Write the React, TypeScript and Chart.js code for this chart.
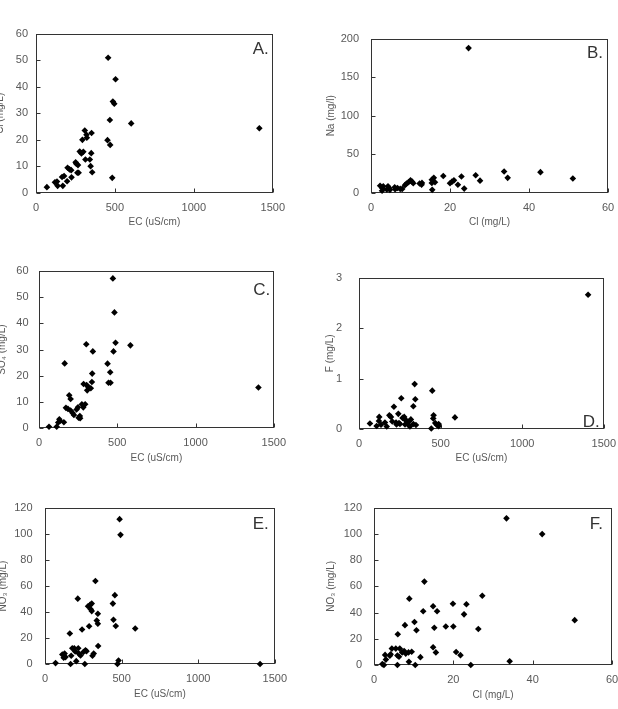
import React, { useEffect, useRef } from "react";
import { Chart, registerables } from "chart.js";
Chart.register(...registerables);

// ---- tick values ----
const ecTicks = [0, 500, 1000, 1500];
const clTicks = [0, 20, 40, 60];
const cl60Ticks = [0, 10, 20, 30, 40, 50, 60];
const naTicks = [0, 50, 100, 150, 200];
const fTicks = [0, 1, 2, 3];
const no3Ticks = [0, 20, 40, 60, 80, 100, 120];

// ---- A: Cl vs EC ----
const aEC = [69, 120, 133, 137, 170, 165, 178, 197, 200, 212, 225, 223, 251, 255, 262, 270, 266, 277, 288, 300, 294, 309, 322, 320, 313, 341, 346, 352, 350, 356, 453, 457, 468, 470, 483, 487, 496, 504, 603, 1415];
const aCl = [2.2, 4.0, 4.3, 2.7, 2.7, 6.0, 6.4, 4.4, 9.5, 8.9, 5.9, 8.6, 11.6, 11.0, 7.6, 7.6, 10.5, 15.6, 14.9, 15.5, 20.0, 23.5, 20.8, 21.9, 12.6, 12.6, 10.1, 22.6, 15.0, 7.8, 19.9, 50.9, 27.5, 18.1, 5.7, 34.4, 33.6, 42.8, 26.2, 24.4];

// ---- B: Na vs Cl ----
const bCl = [24.7, 33.7, 34.6, 42.9, 51.1, 26.5, 27.6, 22.9, 23.6, 22.0, 18.3, 20.0, 20.5, 21.0, 15.5, 15.4, 15.4, 15.9, 16.2, 12.9, 12.8, 12.3, 10.4, 10.0, 10.7, 9.5, 9.0, 8.6, 7.9, 7.4, 6.7, 6.0, 6.1, 4.6, 4.3, 4.0, 2.9, 2.8, 2.3, 3.1, 4.8];
const bNa = [187.7, 27.8, 19.6, 27.0, 18.8, 22.9, 16.0, 21.3, 5.7, 10.6, 22.1, 12.7, 14.7, 16.4, 4.1, 13.1, 17.2, 19.6, 13.9, 13.1, 10.6, 12.3, 14.7, 16.4, 12.7, 13.9, 12.3, 10.2, 5.3, 5.3, 6.5, 7.4, 4.9, 6.5, 8.6, 4.5, 6.1, 2.9, 9.4, 8.6, 4.1];

// ---- C: SO4 vs EC ----
const cEC = [64, 113, 123, 130, 134, 159, 164, 172, 185, 193, 202, 202, 215, 223, 240, 249, 253, 261, 263, 274, 283, 285, 295, 304, 302, 308, 314, 331, 338, 340, 344, 438, 444, 457, 455, 472, 476, 482, 489, 584, 1402];
const cSO4 = [0.5, 0.5, 2.1, 3.3, 2.7, 2.2, 24.7, 7.7, 7.3, 12.5, 11.1, 6.7, 5.7, 5.0, 7.1, 7.9, 3.9, 4.6, 3.7, 9.1, 7.9, 16.8, 9.1, 16.4, 32.0, 14.4, 15.8, 15.2, 17.6, 20.8, 29.3, 24.6, 17.3, 17.3, 21.3, 57.2, 29.3, 44.2, 32.6, 31.6, 15.5];

// ---- D: F vs EC ----
const dEC = [67, 124, 122, 108, 135, 159, 170, 186, 196, 214, 204, 227, 241, 245, 251, 259, 267, 277, 282, 292, 300, 306, 312, 333, 333, 341, 345, 349, 443, 449, 457, 455, 467, 476, 488, 488, 588, 1404, 285, 318, 230];
const dF = [0.11, 0.24, 0.16, 0.06, 0.085, 0.13, 0.05, 0.27, 0.24, 0.44, 0.15, 0.13, 0.30, 0.12, 0.10, 0.61, 0.22, 0.24, 0.09, 0.16, 0.09, 0.15, 0.05, 0.10, 0.45, 0.89, 0.59, 0.08, 0.01, 0.76, 0.27, 0.21, 0.12, 0.085, 0.10, 0.055, 0.23, 2.66, 0.18, 0.19, 0.09];

// ---- E: NO3 vs EC ----
const eEC = [69, 113, 122, 128, 134, 162, 167, 171, 178, 191, 197, 204, 214, 217, 221, 232, 242, 251, 260, 264, 271, 281, 288, 294, 299, 305, 305, 310, 318, 329, 338, 345, 345, 347, 443, 447, 456, 462, 473, 480, 487, 493, 589, 1404];
const eNO3 = [0.7, 7.3, 4.8, 8.0, 5.3, 23.5, 0, 6.3, 12.1, 12.1, 9.7, 2.2, 50.3, 12.1, 8.0, 6.5, 26.6, 9.2, 0, 10.6, 9.9, 44.5, 29.0, 45.5, 42.1, 46.5, 40.7, 6.3, 8.0, 63.9, 33.4, 38.7, 31.0, 13.8, 46.5, 34.1, 53.0, 29.3, 0, 2.7, 111.5, 99.4, 27.3, 0];

// ---- F: NO3 vs Cl ----
const fCl = [2.1, 2.5, 2.8, 3.0, 4.0, 4.2, 4.5, 5.5, 5.9, 6.0, 5.9, 6.3, 6.5, 7.1, 7.6, 7.8, 8.0, 8.7, 8.8, 8.9, 9.5, 10.2, 10.4, 10.7, 11.7, 12.4, 12.7, 14.9, 14.9, 15.2, 15.6, 15.9, 18.1, 19.9, 20.0, 20.7, 21.8, 22.7, 23.3, 24.4, 26.3, 27.3, 33.4, 34.2, 42.4, 50.6];
const fNO3 = [0.7, 0, 7.7, 4.1, 7.0, 8.2, 12.5, 12.5, 0, 23.4, 7.2, 6.3, 12.5, 9.6, 10.6, 30.4, 8.7, 9.6, 2.4, 50.6, 10.1, 32.8, 0, 26.5, 6.0, 41.0, 63.6, 44.8, 13.5, 28.4, 9.6, 41.0, 29.4, 46.7, 29.4, 9.9, 7.5, 38.6, 46.3, 0, 27.5, 52.8, 111.8, 2.9, 99.8, 34.2];

const FONT = '"Liberation Sans", Arial, sans-serif';
const TEXT = "#595959";
const LINE = "#333333";

type PanelCfg = {
  left: number; top: number; width: number; height: number;
  yW: number; xH: number; yPad: number;
  xs: number[]; ys: number[];
  xTicks: number[]; yTicks: number[];
  xTitle: string; yTitle: string;
  letter: string; corner: "top" | "bottom"; dx: number; dy: number;
};

const panels: PanelCfg[] = [
  { left: -6, top: 19, width: 299, height: 209, yW: 42, xH: 35, yPad: 8, xs: aEC, ys: aCl, xTicks: ecTicks, yTicks: cl60Ticks, xTitle: "EC (uS/cm)", yTitle: "Cl (mg/L)", letter: "A.", corner: "top", dx: 4, dy: 20 },
  { left: 325, top: 20, width: 303, height: 208, yW: 46, xH: 35, yPad: 12, xs: bCl, ys: bNa, xTicks: clTicks, yTicks: naTicks, xTitle: "Cl (mg/L)", yTitle: "Na (mg/l)", letter: "B.", corner: "top", dx: 5, dy: 19 },
  { left: -4, top: 254, width: 298, height: 210, yW: 43, xH: 36, yPad: 10.5, xs: cEC, ys: cSO4, xTicks: ecTicks, yTicks: cl60Ticks, xTitle: "EC (uS/cm)", yTitle: "SO\u2084 (mg/L)", letter: "C.", corner: "top", dx: 3.5, dy: 24 },
  { left: 324, top: 254, width: 300, height: 210, yW: 35, xH: 35, yPad: 17, xs: dEC, ys: dF, xTicks: ecTicks, yTicks: fTicks, xTitle: "EC (uS/cm)", yTitle: "F (mg/L)", letter: "D.", corner: "bottom", dx: 4, dy: 2 },
  { left: -3, top: 489, width: 298, height: 211, yW: 48, xH: 36, yPad: 12.5, xs: eEC, ys: eNO3, xTicks: ecTicks, yTicks: no3Ticks, xTitle: "EC (uS/cm)", yTitle: "NO\u2083 (mg/L)", letter: "E.", corner: "top", dx: 6, dy: 21 },
  { left: 325, top: 489, width: 307, height: 212, yW: 49, xH: 36, yPad: 12, xs: fCl, ys: fNO3, xTicks: clTicks, yTicks: no3Ticks, xTitle: "Cl (mg/L)", yTitle: "NO\u2083 (mg/L)", letter: "F.", corner: "top", dx: 9, dy: 21 },
];

const framePlugin = {
  id: "frame",
  beforeDatasetsDraw(chart: any) {
    const { ctx, chartArea } = chart;
    const { left, top, right, bottom } = chartArea;
    ctx.save();
    ctx.strokeStyle = LINE;
    ctx.lineWidth = 1;
    const l = Math.round(left) + 0.5, t = Math.round(top) + 0.5;
    const r = Math.round(right) - 0.5, b = Math.round(bottom) - 0.5;
    ctx.strokeRect(l, t, r - l, b - t);
    ctx.beginPath();
    const xs = chart.scales.x;
    xs.ticks.forEach((tk: any) => {
      const px = Math.round(xs.getPixelForValue(tk.value)) + 0.5;
      ctx.moveTo(px, b);
      ctx.lineTo(px, b - 4);
    });
    const ys = chart.scales.y;
    ys.ticks.forEach((tk: any) => {
      const py = Math.round(ys.getPixelForValue(tk.value)) + 0.5;
      ctx.moveTo(l, py);
      ctx.lineTo(l + 4, py);
    });
    ctx.stroke();
    ctx.restore();
  },
  afterDatasetsDraw(chart: any, _args: any, opts: any) {
    const { ctx, chartArea } = chart;
    ctx.save();
    ctx.font = `17px ${FONT}`;
    ctx.fillStyle = "#333333";
    ctx.textAlign = "right";
    ctx.textBaseline = "alphabetic";
    const y = opts.corner === "top" ? chartArea.top + opts.dy : chartArea.bottom - opts.dy;
    ctx.fillText(opts.letter, chartArea.right - opts.dx, y);
    ctx.restore();
  },
};

function Panel({ cfg }: { cfg: PanelCfg }) {
  const ref = useRef<HTMLCanvasElement | null>(null);
  useEffect(() => {
    if (!ref.current) return;
    const tickFont = { family: FONT, size: 11 };
    const titleFont = { family: FONT, size: 10 };
    const fmt = (v: any) => String(v);
    const chart = new Chart(ref.current, {
      type: "scatter",
      data: {
        datasets: [
          {
            data: cfg.xs.map((x, i) => ({ x, y: cfg.ys[i] })),
            pointStyle: "rectRot",
            pointRadius: 3.3,
            backgroundColor: "#000",
            borderColor: "#000",
            borderWidth: 0,
            clip: false,
          } as any,
        ],
      },
      options: {
        animation: false,
        responsive: false,
        devicePixelRatio: 1,
        events: [],
        layout: { padding: { top: 10, right: 20, left: 0, bottom: 0 } },
        plugins: {
          legend: { display: false },
          tooltip: { enabled: false },
          frame: { letter: cfg.letter, corner: cfg.corner, dx: cfg.dx, dy: cfg.dy },
        } as any,
        scales: {
          x: {
            type: "linear",
            min: cfg.xTicks[0],
            max: cfg.xTicks[cfg.xTicks.length - 1],
            afterBuildTicks: (s: any) => { s.ticks = cfg.xTicks.map((v) => ({ value: v })); },
            afterFit: (s: any) => { s.height = cfg.xH; },
            ticks: { font: tickFont, color: TEXT, padding: 8, maxRotation: 0, autoSkip: false, callback: fmt },
            grid: { display: false, drawTicks: false },
            border: { display: false },
            title: { display: true, text: cfg.xTitle, font: titleFont, color: TEXT, padding: 0 },
          },
          y: {
            type: "linear",
            min: cfg.yTicks[0],
            max: cfg.yTicks[cfg.yTicks.length - 1],
            afterBuildTicks: (s: any) => { s.ticks = cfg.yTicks.map((v) => ({ value: v })); },
            afterFit: (s: any) => { s.width = cfg.yW; },
            ticks: { font: tickFont, color: TEXT, padding: cfg.yPad, autoSkip: false, callback: fmt },
            grid: { display: false, drawTicks: false },
            border: { display: false },
            title: { display: true, text: cfg.yTitle, font: titleFont, color: TEXT, padding: 0 },
          },
        } as any,
      },
      plugins: [framePlugin as any],
    });
    return () => chart.destroy();
  }, [cfg]);
  return (
    <canvas
      ref={ref}
      width={cfg.width}
      height={cfg.height}
      style={{ position: "absolute", left: cfg.left, top: cfg.top, width: cfg.width, height: cfg.height, display: "block" }}
    />
  );
}

export default function App() {
  return (
    <div style={{ position: "absolute", left: 0, top: 0, width: 618, height: 709, overflow: "hidden", background: "#fff" }}>
      {panels.map((p, i) => (
        <Panel key={i} cfg={p} />
      ))}
    </div>
  );
}
